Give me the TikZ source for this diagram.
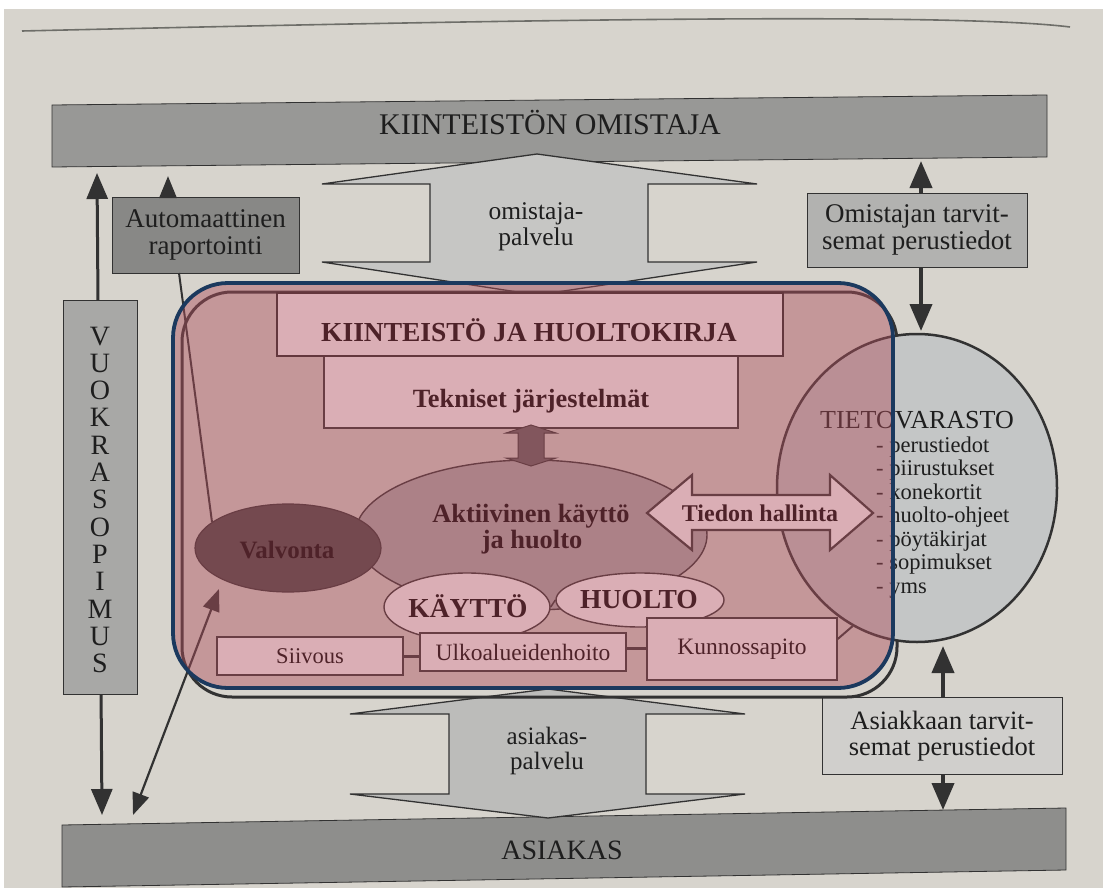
\documentclass[tikz,border=0pt]{standalone}
\usepackage{fontspec}
\setmainfont{Liberation Serif}
\usetikzlibrary{arrows.meta,shapes.geometric}
\definecolor{paper}{RGB}{215,212,205}
\definecolor{rulec}{RGB}{110,110,105}
\definecolor{barA}{RGB}{152,152,150}
\definecolor{barB}{RGB}{142,142,140}
\definecolor{autoc}{RGB}{136,136,134}
\definecolor{vuokc}{RGB}{168,168,166}
\definecolor{omic}{RGB}{178,178,176}
\definecolor{asic}{RGB}{208,207,204}
\definecolor{arrA}{RGB}{198,198,196}
\definecolor{arrB}{RGB}{188,188,186}
\definecolor{tietoc}{RGB}{196,198,198}
\definecolor{inkc}{RGB}{30,30,30}
\definecolor{lineg}{RGB}{50,50,50}
\definecolor{aktc}{RGB}{172,172,172}
\definecolor{valc}{RGB}{70,70,70}
\definecolor{smc}{RGB}{95,95,95}
\definecolor{pinkov}{RGB}{174,77,91}
\definecolor{blueb}{RGB}{27,57,94}
\begin{document}
\begin{tikzpicture}[x=1pt,y=-1pt,
  fs/.style={font=\fontsize{#1}{#1}\selectfont},
  fb/.style={font=\bfseries\fontsize{#1}{#1}\selectfont},
  box/.style={draw=lineg, line width=0.9pt, inner sep=0pt, align=center, text=inkc},
  ibox/.style={draw=lineg, line width=1.4pt, inner sep=0pt, align=center, text=black, fill=white},
  lbl/.style={inner sep=0pt, text=inkc, anchor=base},
  ilbl/.style={inner sep=0pt, text=black, anchor=base},
  dblarr/.style={draw=lineg, line width=3pt, {Triangle[width=21pt,length=26pt]}-{Triangle[width=21pt,length=26pt]}},
  diagarr/.style={draw=lineg, line width=2.2pt, {Triangle[width=17pt,length=22pt]}-{Triangle[width=17pt,length=22pt]}},
  uparr/.style={draw=lineg, line width=3pt, -{Triangle[width=17pt,length=22pt]}},
  thickarr/.style={draw=lineg, line width=4pt, -{Triangle[width=22pt,length=27pt]}},
  bigshape/.style={draw=lineg, line width=1.3pt},
  iconn/.style={draw=lineg, line width=3pt}
]
\useasboundingbox (0,0) rectangle (1103,888);
\fill[white] (0,0) rectangle (1103,888);
\fill[paper] (4,9) rectangle (1103,888);
\draw[rulec, line width=1.6pt] (22,31) .. controls (500,20) and (950,12) .. (1070,27);

% top and bottom bars
\draw[draw=lineg, line width=0.8pt, fill=barA] (52,105) -- (1047,95) -- (1047,157) -- (52,167) -- cycle;
\node[lbl, fs=30] (owner) at (550,135) {KIINTEISTÖN OMISTAJA};
\draw[draw=lineg, line width=0.8pt, fill=barB] (62,825) -- (1066,808) -- (1066,870) -- (62,887) -- cycle;
\node[lbl, fs=28] (client) at (562,859) {ASIAKAS};

% left long arrow and lease box
\coordinate (vTop) at (97,173);
\coordinate (vBot) at (102,815);
\draw[dblarr] (vBot) -- (vTop);
\node[box, fill=vuokc, minimum width=74pt, minimum height=394pt] (vuok) at (100,497) {};
\foreach \l [count=\i] in {V,U,O,K,R,A,S,O,P,I,M,U,S}
  \node[lbl, fs=28] (vl\i) at (100,{345+(\i-1)*27.33}) {\l};

% automatic reporting
\node[box, fill=autoc, minimum width=187pt, minimum height=76pt, fs=27] (auto) at (205.5,235) {Automaattinen\\raportointi};
\coordinate (aTip) at (168,176);
\draw[uparr] (auto.north -| aTip) -- (aTip);

% owner info box
\node[box, fill=omic, minimum width=220pt, minimum height=74pt, fs=27] (omi) at (917,230) {Omistajan tarvit-\\semat perustiedot};
\coordinate (oUp) at (921,161);
\coordinate (oDn) at (921,331);
\draw[thickarr] (omi.north -| oUp) -- (oUp);
\draw[thickarr] (omi.south -| oDn) -- (oDn);

% customer info box
\node[box, fill=asic, minimum width=240pt, minimum height=77pt, fs=26.5] (asi) at (942,736) {Asiakkaan tarvit-\\semat perustiedot};
\coordinate (sUp) at (943,646);
\coordinate (sDn) at (943,810);
\draw[thickarr] (asi.north -| sUp) -- (sUp);
\draw[thickarr] (asi.south -| sDn) -- (sDn);

% big double arrows
\draw[bigshape, fill=arrA] (537,154) -- (757,184) -- (648,184) -- (648,262) -- (757,262) -- (537,295) -- (322,262) -- (430,262) -- (430,184) -- (322,184) -- cycle;
\node[inner sep=0pt, align=center, text=inkc, fs=25.5] (opal) at (536,227) {omistaja-\\palvelu};
\draw[bigshape, fill=arrB] (548,689) -- (745,714) -- (646,714) -- (646,794) -- (745,794) -- (548,818) -- (350,794) -- (449,794) -- (449,714) -- (350,714) -- cycle;
\node[inner sep=0pt, align=center, text=inkc, fs=25] (apal) at (547,751) {asiakas-\\palvelu};

% original rounded outline
\draw[draw=lineg, line width=3pt, rounded corners=50pt] (182,292) rectangle (897,697);

% information store
\node[ellipse, draw=lineg, line width=2.5pt, fill=tietoc, minimum width=280pt, minimum height=308pt, inner sep=0pt] (tieto) at (917,488) {};
\node[inner sep=0pt, anchor=base west, text=inkc, fs=26] (tietoT) at (820,428) {TIETOVARASTO};
\foreach \t [count=\i] in {perustiedot,piirustukset,konekortit,huolto-ohjeet,pöytäkirjat,sopimukset,yms}
  \node[inner sep=0pt, anchor=base west, text=inkc, fs=22.5] (ti\i) at (876,{452+(\i-1)*23.5}) {- \t};

% lines to Valvonta
\coordinate (autoB) at (179,273);
\coordinate (valTop) at (212,522);
\draw[draw=lineg, line width=2pt] (autoB) -- (valTop);
\coordinate (dBot) at (133,815);
\coordinate (dTop) at (219,589);
\draw[diagarr] (dBot) -- (dTop);

% inner content
\node[ibox, minimum width=414pt, minimum height=78pt] (tek) at (531,389) {};
\node[ilbl, fb=26.3] (tekT) at (531,407) {Tekniset järjestelmät};
\node[ibox, line width=2.6pt, draw=black!85, minimum width=506pt, minimum height=63pt] (kh) at (530,324.5) {};
\node[ilbl, fb=27.5] (khT) at (529,341) {KIINTEISTÖ JA HUOLTOKIRJA};

\node[ellipse, draw=lineg, line width=1.4pt, fill=aktc, minimum width=352pt, minimum height=150pt, inner sep=0pt] (akt) at (531,535) {};
\node[ilbl, fb=26.4] (aktT1) at (531,522) {Aktiivinen käyttö};
\node[ilbl, fb=26.4] (aktT2) at (532,548) {ja huolto};

\draw[draw=lineg, line width=1pt, fill=smc] (531,425) -- (556,433) -- (544,433) -- (544,458) -- (556,458) -- (531,466) -- (506,458) -- (518,458) -- (518,433) -- (506,433) -- cycle;

\node[ellipse, draw=lineg, line width=1.2pt, fill=valc, minimum width=186pt, minimum height=88pt, inner sep=0pt] (valv) at (288,548) {};
\node[ilbl, fb=25] (valvT) at (287,558) {Valvonta};

\node[ellipse, ibox, minimum width=166pt, minimum height=68pt] (kay) at (467,607) {};
\node[ilbl, fb=27.5] (kayT) at (468,617) {KÄYTTÖ};
\node[ellipse, ibox, minimum width=168pt, minimum height=54pt] (huo) at (640,600) {};
\node[ilbl, fb=27.5] (huoT) at (639,608) {HUOLTO};
\draw[draw=lineg, line width=1.5pt] (kay.east) -- (huo.west);

\node[ibox, minimum width=186pt, minimum height=38pt, fs=22.5] (sii) at (310,656) {Siivous};
\node[ibox, minimum width=206pt, minimum height=38pt, fs=23.5] (ulk) at (523,652) {Ulkoalueidenhoito};
\node[ibox, minimum width=190pt, minimum height=62pt, fs=23.5] (kun) at (742,649) {Kunnossapito};
\draw[iconn] (sii.east) -- (sii.east -| ulk.west);
\draw[iconn] ([yshift=4pt]ulk.east) -- ([yshift=4pt]ulk.east -| kun.west);
\draw[draw=lineg, line width=2pt] ([yshift=10pt]kun.east) -- (tieto.245);

\draw[draw=lineg, line width=2.2pt, fill=white] (647,513) -- (692,475) -- (692,495) -- (830,495) -- (830,475) -- (873,513) -- (830,550) -- (830,530) -- (692,530) -- (692,550) -- cycle;
\node[ilbl, fb=24] (tiedon) at (760,521) {Tiedon hallinta};

% pink overlay with blue border
\fill[pinkov, fill opacity=0.45, rounded corners=55pt] (173,283) rectangle (893,688);
\draw[blueb, line width=3.8pt, rounded corners=55pt] (173,283) rectangle (893,688);
\end{tikzpicture}
\end{document}
